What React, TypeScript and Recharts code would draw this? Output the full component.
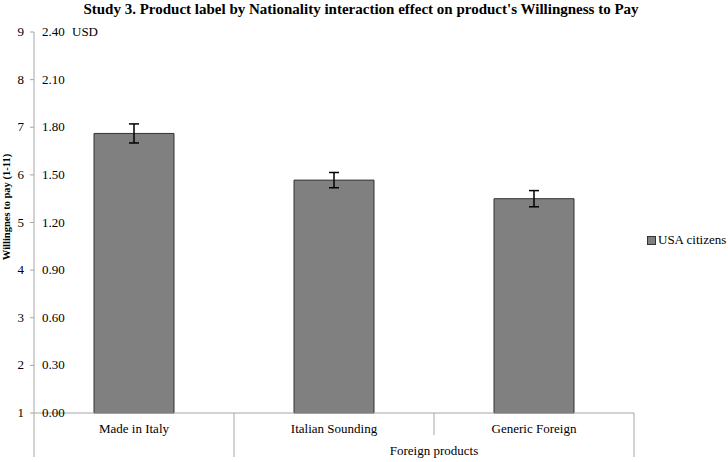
import { BarChart, Bar, XAxis, YAxis, ErrorBar, Label } from 'recharts'

// ─── Data ────────────────────────────────────────────────────────────────────

const categories = ['Made in Italy', 'Italian Sounding', 'Generic Foreign']
const usaCitizens = [6.87, 5.89, 5.5]
const usaErrors = [0.2, 0.16, 0.17]

// second row of the x axis: groups of categories (by index)
const groups = [
  { label: '', from: 0, to: 0 },
  { label: 'Foreign products', from: 1, to: 2 },
]

const scoreTicks = [1, 2, 3, 4, 5, 6, 7, 8, 9]
const usdTicks = ['0.00', '0.30', '0.60', '0.90', '1.20', '1.50', '1.80', '2.10', '2.40']

const TITLE = "Study 3. Product label by Nationality interaction effect on product's Willingness to Pay"
const Y_LABEL = 'Willingnes to pay (1-11)'

const FONT = '"Liberation Serif", "Times New Roman", serif'
const AXIS_GRAY = '#a6a6a6'
const BAR_FILL = '#808080'

const data = categories.map((name, i) => ({ name, value: usaCitizens[i], err: usaErrors[i] }))

// ─── Custom ticks ────────────────────────────────────────────────────────────

function DualYTick(props: any) {
  const { y, payload, index } = props
  // anchor everything to the axis line, not to the tick text position
  const axisX = 34
  return (
    <g>
      <text x={axisX - 10} y={y} dy={4} textAnchor="end" fontSize={13} fontFamily={FONT} fill="#000">
        {payload.value}
      </text>
      <text x={axisX + 8} y={y} dy={4} textAnchor="start" fontSize={13} fontFamily={FONT} fill="#000">
        {usdTicks[index]}
      </text>
      {index === scoreTicks.length - 1 && (
        <text x={axisX + 38} y={y} dy={4} textAnchor="start" fontSize={13} fontFamily={FONT} fill="#000">
          USD
        </text>
      )}
    </g>
  )
}

function MultiLevelXTick(props: any) {
  const { x, y, payload, index } = props
  const half = payload.offset ?? 100
  const group = groups.find((g) => index >= g.from && index <= g.to)
  const startsGroup = group ? group.from === index : true
  const isLast = index === categories.length - 1
  const top = y - 8
  return (
    <g>
      <line x1={x - half} y1={top} x2={x - half} y2={startsGroup ? top + 44 : top + 22} stroke={AXIS_GRAY} />
      {isLast && <line x1={x + half} y1={top} x2={x + half} y2={top + 44} stroke={AXIS_GRAY} />}
      <text x={x} y={top + 16} dy={4} textAnchor="middle" fontSize={13} fontFamily={FONT} fill="#000">
        {payload.value}
      </text>
      {group && group.label && group.to === index && (
        <text
          x={x - (group.to - group.from) * half}
          y={top + 38}
          dy={4}
          textAnchor="middle"
          fontSize={13}
          fontFamily={FONT}
          fill="#000"
        >
          {group.label}
        </text>
      )}
    </g>
  )
}

function SideLegend() {
  return (
    <div style={{ display: 'flex', alignItems: 'center', whiteSpace: 'nowrap', fontFamily: FONT, fontSize: 13, color: '#000' }}>
      <span
        style={{
          display: 'inline-block',
          width: 7,
          height: 7,
          background: BAR_FILL,
          border: '1px solid #333',
          marginRight: 2,
        }}
      />
      USA citizens
    </div>
  )
}

// ═════════════════════════════════════════════════════════════════════════════

export default function App() {
  return (
    <div style={{ position: 'absolute', left: 0, top: 0, width: 728, height: 462, background: '#fff' }}>
      <div
        style={{
          position: 'absolute',
          left: 0,
          top: 1,
          width: 722,
          textAlign: 'center',
          fontFamily: FONT,
          fontSize: 15,
          fontWeight: 'bold',
          color: '#000',
        }}
      >
        {TITLE}
      </div>
      <BarChart width={728} height={462} data={data} margin={{ top: 32, right: 94, left: 0, bottom: 0 }}>
        <XAxis
          dataKey="name"
          height={49}
          axisLine={{ stroke: AXIS_GRAY }}
          tickLine={false}
          interval={0}
          tick={<MultiLevelXTick />}
        />
        <YAxis
          width={34}
          domain={[1, 9]}
          ticks={scoreTicks}
          interval={0}
          axisLine={{ stroke: AXIS_GRAY }}
          tickLine={{ stroke: AXIS_GRAY }}
          tickSize={4}
          tick={<DualYTick />}
        >
          <Label
            content={() => {
              const cx = 6
              const cy = 207
              return (
                <text
                  x={cx}
                  y={cy}
                  transform={`rotate(-90, ${cx}, ${cy})`}
                  textAnchor="middle"
                  dominantBaseline="central"
                  fontSize={10.5}
                  fontWeight="bold"
                  fontFamily={FONT}
                  fill="#000"
                >
                  {Y_LABEL}
                </text>
              )
            }}
          />
        </YAxis>
        <Bar dataKey="value" name="USA citizens" barSize={80} fill={BAR_FILL} stroke="#333" strokeWidth={1} isAnimationActive={false}>
          <ErrorBar dataKey="err" width={5} stroke="#000" strokeWidth={1.5} isAnimationActive={false} />
        </Bar>
      </BarChart>
      <div style={{ position: 'absolute', left: 647, top: 232 }}>
        <SideLegend />
      </div>
    </div>
  )
}
